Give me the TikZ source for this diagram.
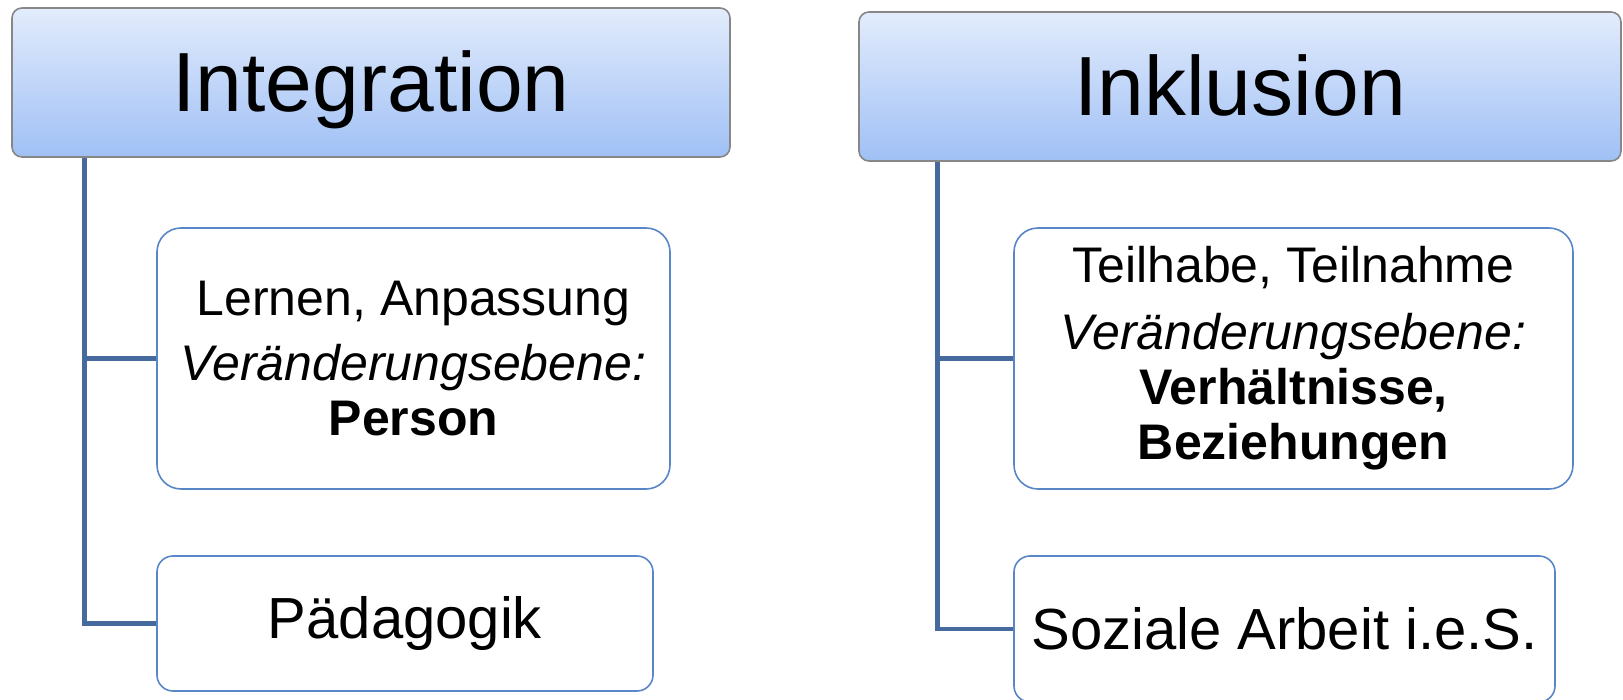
\documentclass[tikz,border=0pt]{standalone}
\usepackage{fontspec}
\setmainfont{Liberation Sans}
\usepackage{xcolor}
\usetikzlibrary{positioning, calc}

\definecolor{headtop}{RGB}{226,236,252}
\definecolor{headbot}{RGB}{160,192,245}
\definecolor{headline}{RGB}{135,135,135}
\definecolor{boxline}{RGB}{88,134,198}
\definecolor{linkcol}{RGB}{70,106,158}

\begin{document}
\begin{tikzpicture}[
        x=0.5pt, y=-0.5pt,
        head/.style={draw=headline, line width=0.8pt, rounded corners=5pt, top color=headtop, bottom color=headbot,
            minimum height=74.5pt, font=\fontsize{42}{46}\selectfont, inner sep=0pt, text height=36pt, text depth=7pt},
        item/.style={draw=boxline, line width=0.8pt, fill=white, rounded corners=#1, align=center, inner sep=0pt,
            font=\fontsize{25}{27.5}\selectfont},
        item/.default=12pt,
        big/.style={font=\fontsize{29}{32}\selectfont},
        link/.style={draw=linkcol, line width=2.4pt},
    ]
    \useasboundingbox (0,0) rectangle (1623,700);

    % Headers
    \node[head, minimum width=359pt] (integ) at (371,82.5) {Integration};
    \node[head, minimum width=381pt] (inkl) at (1240,86.5) {Inklusion};

    % Integration branch
    \node[item, minimum width=256.5pt, minimum height=130.5pt] (lernen) at (413.5,358.5)
        {Lernen, Anpassung\\[5pt]\textit{Veränderungsebene:}\\\textbf{Person}};
    \node[item=8pt, big, minimum width=248pt, minimum height=67.5pt] (paed) at (405,623.5) {Pädagogik};

    % Inklusion branch
    \node[item, minimum width=279.5pt, minimum height=130.5pt] (teil) at (1293.5,358.5)
        {Teilhabe, Teilnahme\\[6pt]\textit{Veränderungsebene:}\\\textbf{Verhältnisse,}\\\textbf{Beziehungen}};
    \node[item=8pt, big, minimum width=270.5pt, minimum height=73pt] (sozial) at (1284.5,629) {Soziale Arbeit i.e.S.};

    % Connectors
    \coordinate (s1) at ([xshift=36.5pt]integ.south west);
    \coordinate (s2) at ([xshift=39.5pt]inkl.south west);
    \draw[link] (s1) |- (lernen.west);
    \draw[link] (s1) |- (paed.west);
    \draw[link] (s2) |- (teil.west);
    \draw[link] (s2) |- (sozial.west);
\end{tikzpicture}
\end{document}
